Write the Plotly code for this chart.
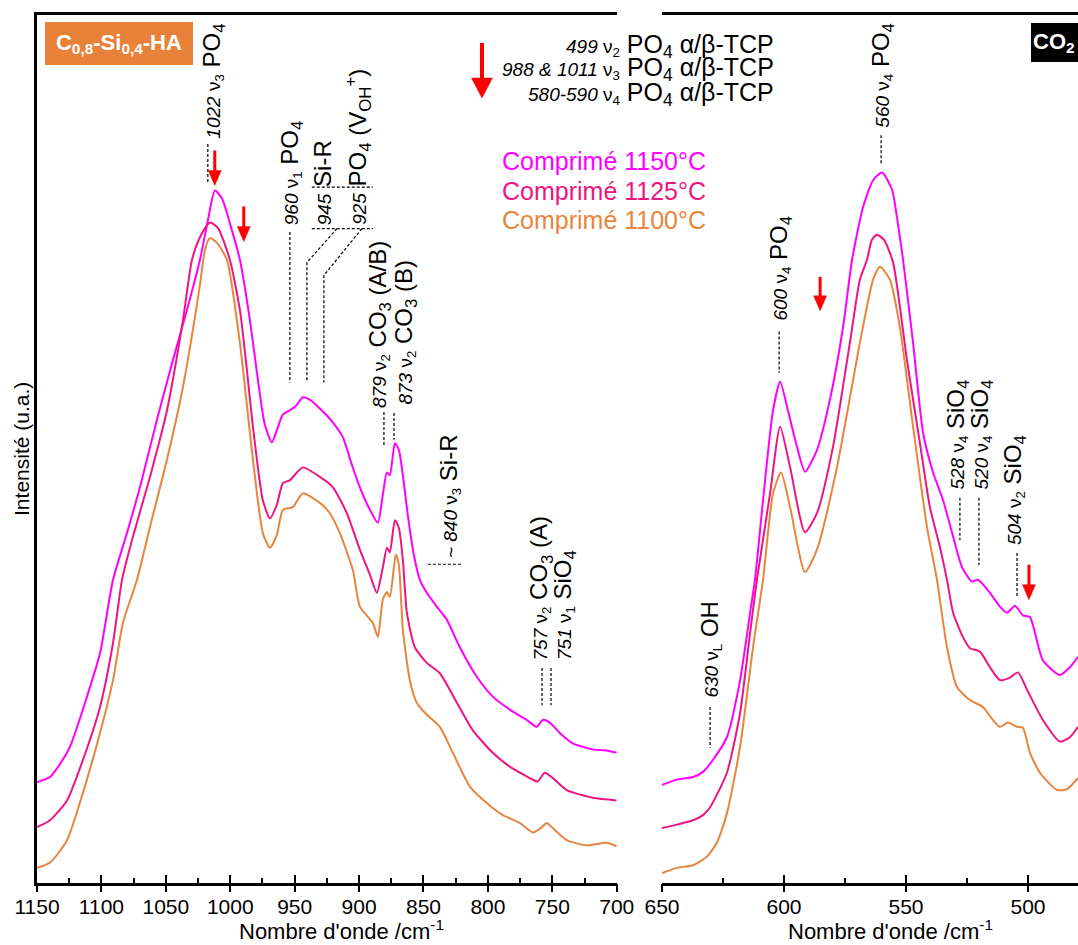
import plotly.graph_objects as go

FONT = "Arial, 'Liberation Sans', sans-serif"
C1150 = "#FF00FF"
C1125 = "#EE1580"
C1100 = "#E8853D"
RED = "#FF0000"

# ---------------- left panel (1150-700 cm-1) ----------------
wn_L_1150 = [1150, 1139.9, 1134.5, 1124.4, 1111.2, 1101.1, 1091.0, 1080.2, 1070.1, 1056.9, 1044.5,
             1033.6, 1023.5, 1017.3, 1011.9, 1006.5, 998.7, 992.5, 984.7, 978.5, 973.1, 967.7, 963.8,
             959.2, 953.8, 949.1, 943.6, 937.0, 930.5, 925.0, 920.4, 912.6, 905.6, 899.4, 891.6, 885.4,
             881.6, 878.4, 876.1, 872.2, 869.1, 866.0, 862.2, 857.5, 852.8, 847.4, 839.7, 831.9, 821.8,
             808.6, 796.2, 783.0, 769.8, 762.1, 757.4, 752.0, 744.2, 734.1, 718.6, 709.3, 700]
I_L_1150 = [11.3, 11.9, 12.9, 15.4, 21.2, 26.2, 34.7, 40.1, 45.4, 53.2, 60.1,
            65.9, 71.7, 76.3, 79.7, 78.8, 75.1, 71.7, 64.7, 57.8, 52.6, 50.6, 52.0,
            53.8, 54.3, 54.8, 55.8, 55.4, 54.5, 53.7, 52.9, 51.2, 48.0, 45.4, 42.8, 41.3,
            44.5, 47.1, 46.8, 50.5, 49.7, 46.8, 42.2, 37.6, 34.7, 33.2, 31.6, 30.1, 26.9,
            23.5, 21.2, 19.7, 18.5, 17.7, 18.5, 18.2, 17.0, 15.8, 15.1, 15.0, 14.7]

wn_L_1125 = [1150, 1139.9, 1126.7, 1114.3, 1101.1, 1091.0, 1084.0, 1075.5, 1062.3, 1049.1, 1036.7,
             1029.7, 1023.5, 1015.8, 1009.6, 1000.3, 992.5, 987.1, 982.4, 974.7, 969.2, 963.8, 959.1,
             953.7, 948.3, 943.6, 930.4, 920.3, 909.5, 899.4, 891.6, 886.2, 881.6, 878.4, 876.1, 872.2,
             869.1, 866.0, 862.9, 856.7, 847.4, 837.3, 824.1, 811.7, 796.2, 783.0, 765.2, 761.3, 755.9,
             749.7, 738.8, 718.6, 700]
I_L_1125 = [6.1, 6.9, 9.2, 13.9, 20.0, 27.4, 34.7, 39.7, 46.6, 54.3, 64.7,
            71.7, 74.3, 76.0, 75.4, 71.7, 65.9, 59.0, 52.4, 43.9, 41.8, 43.4, 45.9,
            46.2, 47.1, 47.7, 46.6, 45.4, 42.4, 38.2, 35.3, 33.2, 36.1, 38.4, 37.9, 41.6,
            40.7, 37.0, 30.9, 26.9, 25.1, 23.9, 20.5, 17.3, 14.7, 13.1, 11.6, 11.4, 12.4,
            11.8, 10.4, 9.5, 9.2]

wn_L_1100 = [1150, 1139.9, 1126.7, 1114.3, 1101.1, 1091.0, 1083.3, 1072.4, 1062.3, 1049.1, 1036.7,
             1023.5, 1019.7, 1015.8, 1011.1, 1002.6, 992.5, 982.4, 974.7, 969.2, 963.8, 959.1, 951.4,
             943.6, 930.4, 922.7, 914.9, 904.8, 899.4, 889.3, 885.4, 881.6, 878.4, 876.1, 871.5, 869.1,
             866.0, 860.6, 855.2, 847.4, 837.3, 827.2, 814.0, 800.9, 788.4, 775.3, 765.2, 759.7, 754.3,
             749.7, 738.8, 723.3, 707.8, 700]
I_L_1100 = [1.4, 2.0, 4.6, 10.1, 17.0, 23.1, 29.7, 34.7, 40.8, 48.6, 57.0,
            68.8, 72.8, 74.2, 73.8, 71.7, 62.1, 48.6, 40.1, 38.4, 39.9, 42.8, 43.1,
            44.7, 43.6, 42.4, 40.1, 35.8, 31.6, 29.7, 28.1, 32.4, 33.3, 32.7, 37.6, 36.4,
            28.9, 23.1, 20.5, 19.1, 17.7, 14.7, 10.8, 8.9, 7.5, 6.6, 5.5, 5.9, 6.6,
            6.0, 4.6, 4.0, 4.3, 3.9]

# ---------------- right panel (650-480 cm-1) ----------------
wn_R_1150 = [650, 643.9, 637.3, 633.2, 629.1, 623.4, 618.0, 613.9, 611.9, 608.6, 604.5, 601.6,
             598.4, 594.7, 591.4, 586.5, 581.2, 575.8, 572.1, 567.6, 563.5, 559.8, 555.7, 553.7,
             551.2, 547.1, 543.0, 538.9, 534.8, 530.7, 527.1, 523.0, 520.5, 515.6, 511.5, 508.6,
             505.3, 502.1, 499.2, 493.9, 486.9, 482.8, 479.5]
I_R_1150 = [11.0, 11.6, 11.9, 12.5, 13.9, 16.5, 23.1, 30.9, 34.7, 43.9, 54.3, 57.6,
            54.3, 50.1, 47.2, 49.7, 55.5, 63.9, 71.7, 77.8, 80.9, 81.8, 79.8, 76.6,
            71.7, 62.1, 51.7, 47.1, 43.9, 39.7, 36.2, 34.5, 34.7, 33.2, 31.6, 30.9,
            31.7, 30.6, 30.4, 25.4, 23.7, 24.6, 25.8]

wn_R_1125 = [650, 643.9, 637.3, 633.2, 630.3, 623.4, 618.0, 613.9, 611.1, 605.7, 601.6, 597.5,
             591.4, 586.5, 579.9, 573.0, 568.9, 566.0, 564.0, 561.9, 559.0, 555.3, 549.6, 544.3,
             540.2, 536.1, 533.2, 530.7, 526.7, 523.8, 519.7, 515.6, 511.5, 507.4, 504.1, 500.4,
             493.9, 486.9, 482.8, 479.5]
I_R_1125 = [6.0, 6.4, 6.9, 7.5, 8.4, 12.4, 19.3, 28.6, 34.7, 44.7, 52.4, 47.7,
            40.2, 42.4, 50.1, 62.1, 69.4, 71.7, 74.0, 74.6, 74.0, 71.4, 60.1, 50.5,
            43.1, 38.5, 34.7, 30.9, 28.1, 26.8, 26.4, 24.6, 23.1, 23.4, 24.0, 22.0,
            18.5, 16.0, 16.5, 17.7]

wn_R_1100 = [650, 643.9, 637.3, 631.6, 627.5, 623.4, 618.0, 612.7, 608.6, 604.5, 601.2, 597.5,
             591.4, 586.5, 578.3, 568.9, 563.5, 560.7, 556.6, 552.5, 547.1, 541.4, 537.3, 533.2,
             529.1, 523.8, 518.5, 514.4, 511.5, 508.2, 504.5, 502.1, 499.2, 495.1, 488.1, 484.0,
             479.5]
I_R_1100 = [0.8, 1.4, 1.7, 2.7, 4.3, 7.7, 15.4, 26.9, 34.7, 44.7, 47.1, 43.1,
            35.6, 38.2, 47.7, 62.1, 69.4, 70.9, 69.4, 63.9, 52.4, 40.8, 34.7, 26.9,
            22.3, 20.8, 20.0, 18.5, 17.7, 18.2, 17.7, 17.6, 14.7, 12.4, 10.4, 10.5,
            11.8]

series_names = ["Comprimé 1150°C", "Comprimé 1125°C", "Comprimé 1100°C"]
series_colors = [C1150, C1125, C1100]
left_data = [(wn_L_1150, I_L_1150), (wn_L_1125, I_L_1125), (wn_L_1100, I_L_1100)]
right_data = [(wn_R_1150, I_R_1150), (wn_R_1125, I_R_1125), (wn_R_1100, I_R_1100)]

# band labels: (panel, x, y_bottom, number, mode, species)
band_labels = [
    ("L", 1012.8, 85.5, "1022", "3", "PO<sub>4</sub>"),
    ("L", 952.2, 75.5, "960", "1", "PO<sub>4</sub>"),
    ("L", 928.1, 75.5, "945", None, "Si-R"),
    ("L", 900.9, 75.5, "925", None, "PO<sub>4</sub> (V<sub>OH</sub><sup>+</sup>)"),
    ("L", 883.6, 54.3, "879", "2", "CO<sub>3</sub> (A/B)"),
    ("L", 864.2, 54.7, "873", "2", "CO<sub>3</sub> (B)"),
    ("L", 829.3, 37.0, "~ 840", "3", "Si-R"),
    ("L", 758.8, 25.2, "757", "2", "CO<sub>3</sub> (A)"),
    ("L", 740.9, 25.2, "751", "1", "SiO<sub>4</sub>"),
    ("R", 559.8, 86.7, "560", "4", "PO<sub>4</sub>"),
    ("R", 601.6, 64.4, "600", "4", "PO<sub>4</sub>"),
    ("R", 528.7, 44.9, "528", "4", "SiO<sub>4</sub>"),
    ("R", 518.9, 44.9, "520", "4", "SiO<sub>4</sub>"),
    ("R", 505.3, 38.5, "504", "2", "SiO<sub>4</sub>"),
    ("R", 629.9, 20.8, "630", "L", "OH"),
]

# dashed leader lines (panel, [(x, y), ...])
leaders = [
    ("L", [(1017.4, 85.1), (1017.4, 80.6)]),
    ("L", [(953.7, 74.9), (953.7, 57.5)]),
    ("L", [(917.2, 75.3), (940.5, 71.4), (940.5, 57.5)]),
    ("L", [(897.8, 75.3), (927.3, 69.9), (927.3, 57.5)]),
    ("L", [(936.7, 80.1), (889.3, 80.1)]),
    ("L", [(936.7, 75.3), (889.3, 75.3)]),
    ("L", [(880.7, 54.1), (880.7, 50.1)]),
    ("L", [(872.9, 54.0), (872.9, 50.9)]),
    ("L", [(846.6, 36.5), (820.2, 36.5)]),
    ("L", [(758.0, 24.5), (758.0, 20.2)]),
    ("L", [(751.0, 24.5), (751.0, 20.2)]),
    ("R", [(560.2, 86.1), (560.2, 82.7)]),
    ("R", [(602.0, 63.4), (602.0, 58.6)]),
    ("R", [(527.9, 44.2), (527.9, 39.3)]),
    ("R", [(520.1, 44.2), (520.1, 36.4)]),
    ("R", [(504.5, 37.8), (504.5, 32.7)]),
    ("R", [(630.3, 20.0), (630.3, 15.3)]),
]

# red arrows (panel, x, y_tip, length_px, head_w, head_l, shaft_w)
red_arrows = [
    ("L", 1012.0, 80.3, 35, 13, 15, 3),
    ("L", 989.5, 73.8, 35, 13, 15, 3),
    ("R", 585.2, 65.8, 34, 13, 15, 3),
    ("R", 499.6, 32.4, 35, 13, 15, 3),
    ("L", 804.6, 90.4, 55, 21, 20, 4),
]

tcp_lines = [
    ("499", "2", 96.4),
    ("988 &amp; 1011", "3", 93.7),
    ("580-590", "4", 90.9),
]

fig = go.Figure()
for (wn, inten), name, col in zip(left_data, series_names, series_colors):
    fig.add_trace(go.Scatter(x=wn, y=inten, mode="lines", name=name, xaxis="x", yaxis="y",
                             line=dict(color=col, width=2, shape="spline", smoothing=0.6),
                             showlegend=False))
for (wn, inten), name, col in zip(right_data, series_names, series_colors):
    fig.add_trace(go.Scatter(x=wn, y=inten, mode="lines", name=name, xaxis="x2", yaxis="y2",
                             line=dict(color=col, width=2, shape="spline", smoothing=0.6),
                             showlegend=False))
# empty traces to activate the overlay tick axes
fig.add_trace(go.Scatter(x=[], y=[], xaxis="x3", yaxis="y", showlegend=False, hoverinfo="skip"))
fig.add_trace(go.Scatter(x=[], y=[], xaxis="x4", yaxis="y2", showlegend=False, hoverinfo="skip"))

YR = [-0.35, 100]
L_RANGE = [1150, 700]
R_RANGE = [650, 479.5]
L_DOM = [0.0, 0.5569]
R_DOM = [0.6004, 1.0]

# main axes: line, labels, inward major + minor ticks
base_x = dict(showgrid=False, zeroline=False, showline=True, linecolor="black", linewidth=2.5,
              mirror=True, ticks="inside", ticklen=8, tickwidth=2, tickcolor="black",
              dtick=50, tick0=0, tickfont=dict(family=FONT, size=21, color="black"),
              minor=dict(ticks="inside", ticklen=5, tickwidth=2, tickcolor="black", dtick=25, tick0=0),
              automargin=False, ticklabelstandoff=3)
# overlay axes: outward half of the crossing major ticks
over_x = dict(showgrid=False, zeroline=False, showline=False, ticks="outside", ticklen=8,
              tickwidth=2, tickcolor="black", dtick=50, tick0=0, showticklabels=False,
              automargin=False)

fig.update_layout(
    width=1078, height=945,
    margin=dict(l=37, r=0, t=15, b=62),
    paper_bgcolor="white", plot_bgcolor="white",
    font=dict(family=FONT, color="black"),
    xaxis=dict(domain=L_DOM, range=L_RANGE, anchor="y", **base_x),
    xaxis2=dict(domain=R_DOM, range=R_RANGE, anchor="y2", **base_x),
    xaxis3=dict(overlaying="x", anchor="y", range=L_RANGE, **over_x),
    xaxis4=dict(overlaying="x2", anchor="y2", range=R_RANGE, **over_x),
    yaxis=dict(domain=[0, 1], range=YR, anchor="x", showgrid=False, zeroline=False,
               showline=True, linecolor="black", linewidth=2.5, ticks="", showticklabels=False,
               automargin=False),
    yaxis2=dict(domain=[0, 1], range=YR, anchor="x2", showgrid=False, zeroline=False,
                showline=False, ticks="", showticklabels=False, automargin=False),
)

ann = []
shapes = []


def refs(panel):
    return ("x", "y") if panel == "L" else ("x2", "y2")


for panel, x, y, num, mode, species in band_labels:
    xr, yr = refs(panel)
    small = f"<i>{num}</i>"
    if mode:
        small += f" ν<sub>{mode}</sub>"
    text = f"<span style='font-size:19px'>{small}</span> {species}"
    ann.append(dict(x=x, y=y, xref=xr, yref=yr, text=text, textangle=-90, showarrow=False,
                    xanchor="center", yanchor="bottom", font=dict(family=FONT, size=24, color="black")))

for panel, pts in leaders:
    xr, yr = refs(panel)
    path = "M " + " L ".join(f"{px},{py}" for px, py in pts)
    shapes.append(dict(type="path", path=path, xref=xr, yref=yr,
                       line=dict(color="black", width=1.2, dash="3px,2px")))

for panel, x, y, length, hw, hl, sw in red_arrows:
    xr, yr = refs(panel)
    shapes.append(dict(type="line", xref=xr, yref=yr, xsizemode="pixel", ysizemode="pixel",
                       xanchor=x, yanchor=y, x0=0, x1=0, y0=hl - 1, y1=length,
                       line=dict(color=RED, width=sw)))
    shapes.append(dict(type="path", xref=xr, yref=yr, xsizemode="pixel", ysizemode="pixel",
                       xanchor=x, yanchor=y,
                       path=f"M {-hw/2},{hl} L {hw/2},{hl} L 0,0 Z",
                       fillcolor=RED, line=dict(color=RED, width=0.5)))

# legend-like coloured texts
legend_y = [83.1, 79.7, 76.3]
for name, col, ly in zip(series_names, series_colors, legend_y):
    ann.append(dict(x=0.6446, y=ly, xref="paper", yref="y", text=name, showarrow=False,
                    xanchor="right", yanchor="middle", font=dict(family=FONT, size=25, color=col)))

for num, mode, ly in tcp_lines:
    text = (f"<span style='font-size:19px'><i>{num}</i> ν<sub>{mode}</sub></span> "
            f"PO<sub>4</sub> α/β-TCP")
    ann.append(dict(x=0.7099, y=ly, xref="paper", yref="y", text=text, showarrow=False,
                    xanchor="right", yanchor="middle", font=dict(family=FONT, size=25, color="black")))

# sample boxes
ann.append(dict(x=0.0788, y=96.7, xref="paper", yref="y",
                text="<b>C<sub>0,8</sub>-Si<sub>0,4</sub>-HA</b>", showarrow=False,
                xanchor="center", yanchor="middle", width=144, height=39, borderpad=2, borderwidth=0,
                bgcolor="#E8823A", font=dict(family=FONT, size=22, color="white")))
ann.append(dict(x=0.9549, y=96.8, xref="paper", yref="y",
                text="<b>CO<sub>2</sub></b>", showarrow=False, align="left",
                xanchor="left", yanchor="middle", width=100, height=35, borderpad=2, borderwidth=0,
                bgcolor="black", font=dict(family=FONT, size=22, color="white")))

# axis titles
ann.append(dict(x=-0.0154, y=0.5, xref="paper", yref="paper", text="Intensité (u.a.)", textangle=-90,
                showarrow=False, xanchor="center", yanchor="middle",
                font=dict(family=FONT, size=21, color="black")))
for xp in (0.1921, 0.7195):
    ann.append(dict(x=xp, y=-0.0545, xref="paper", yref="paper", text="Nombre d'onde /cm<sup>-1</sup>",
                    showarrow=False, xanchor="left", yanchor="middle",
                    font=dict(family=FONT, size=22, color="black")))

fig.update_layout(annotations=ann, shapes=shapes)
fig.write_html("out.html", config={"displayModeBar": False},
               post_script="document.body.style.margin='0px';")
